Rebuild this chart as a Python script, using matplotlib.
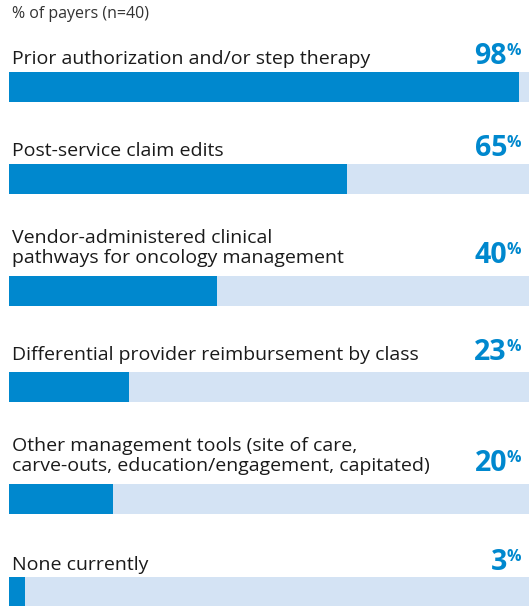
import matplotlib.pyplot as plt

# data
categories = [
    "Prior authorization and/or step therapy",
    "Post-service claim edits",
    "Vendor-administered clinical\npathways for oncology management",
    "Differential provider reimbursement by class",
    "Other management tools (site of care,\ncarve-outs, education/engagement, capitated)",
    "None currently",
]
values = [98, 65, 40, 23, 20, 3]
header = "% of payers (n=40)"

# layout (pixels, figure is 529 x 606)
W, H = 529, 606
BAR_LEFT = 9
bar_tops = [72, 164, 276, 372, 484, 577]
label_gap = [8, 8, 13, 12, 13, 7]
BAR_H = 30

DARK = "#0088CE"
LIGHT = "#D4E3F4"
TEXT = "#1a1a1a"

plt.rcParams['font.family'] = ['Open Sans', 'DejaVu Sans']

fig = plt.figure(figsize=(W / 100, H / 100), dpi=100)
ax = fig.add_axes([BAR_LEFT / W, 0, 1 - BAR_LEFT / W, 1])
ax.set_xlim(0, 100)
ax.set_ylim(H, 0)
ax.axis('off')


def px(x):
    # pixel x -> data x
    return (x - BAR_LEFT) / (W - BAR_LEFT) * 100


centers = [t + BAR_H / 2 for t in bar_tops]
ax.barh(centers, [100] * len(values), height=BAR_H, left=0, color=LIGHT, linewidth=0)
ax.barh(centers, values, height=BAR_H, left=0, color=DARK, linewidth=0)

for cat, val, top, gap in zip(categories, values, bar_tops, label_gap):
    base = top - gap
    ax.text(px(12), base, cat, fontsize=14, color=TEXT, va='baseline', ha='left',
            linespacing=1.12)
    ax.text(px(507), base, str(val), fontsize=20.5, fontweight='bold', color=DARK,
            va='baseline', ha='right')
    ax.text(px(506), base - 21, "%", fontsize=11.5, fontweight='bold', color=DARK,
            va='top', ha='left')

fig.text(12 / W, 1 - 18 / H, header, fontsize=11.5, color="#333333", va='baseline', ha='left')

fig.savefig("out.png", dpi=100)
